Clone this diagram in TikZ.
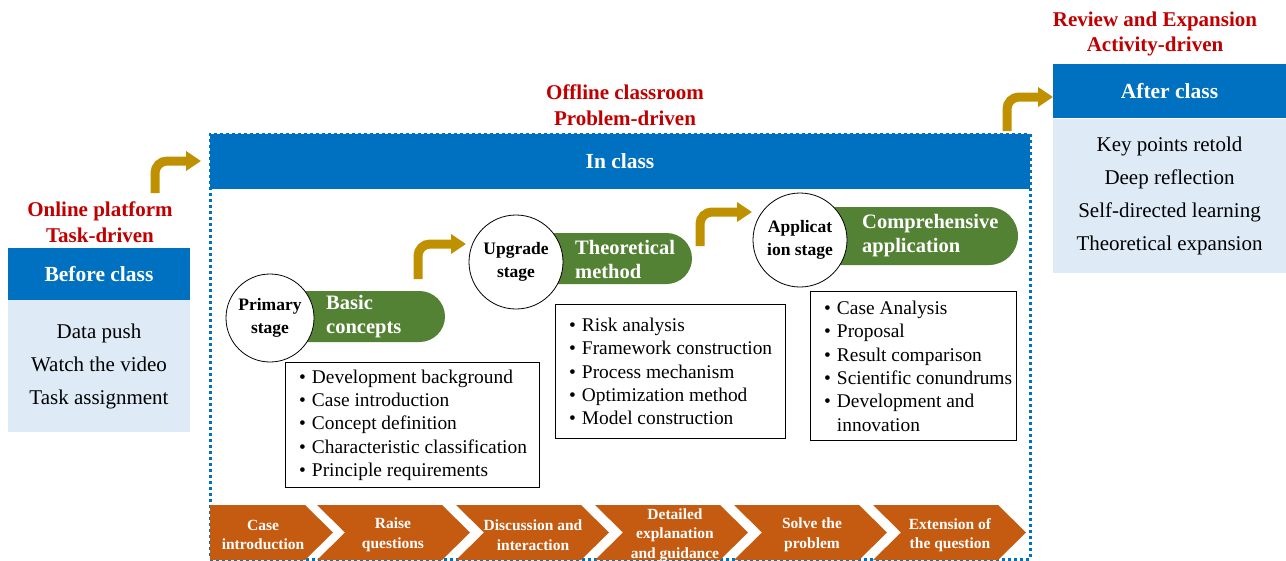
\documentclass[tikz,border=0pt]{standalone}
\usepackage{fontspec}
\setmainfont{Liberation Serif}
\usetikzlibrary{arrows.meta,shapes.misc}

\definecolor{headblue}{HTML}{0070C0}
\definecolor{panelblue}{HTML}{DEEBF7}
\definecolor{drivered}{HTML}{C00000}
\definecolor{pillgreen}{HTML}{548235}
\definecolor{arrowgold}{HTML}{BF9000}
\definecolor{chevorange}{HTML}{C55A11}
\definecolor{frameblue}{HTML}{0070C0}

\newcommand{\bitem}{\textbullet\hspace{6pt}}

\begin{document}
\begin{tikzpicture}[x=1pt, y=-1pt,
    head/.style={fill=headblue, text=white, inner sep=0, font=\bfseries\fontsize{21.5}{24}\selectfont},
    panel/.style={fill=panelblue, inner sep=0, align=center, font=\fontsize{21}{33}\selectfont},
    drive/.style={text=drivered, align=center, inner sep=0, font=\bfseries\fontsize{21}{25.5}\selectfont},
    frame/.style={draw=frameblue, line width=3pt, dash pattern=on 3pt off 3pt, inner sep=0},
    stagecirc/.style={circle, draw, fill=white, line width=0.8pt, inner sep=0, align=center, font=\bfseries\fontsize{17.5}{23}\selectfont},
    pill/.style={rounded rectangle, rounded rectangle west arc=none, fill=pillgreen, inner sep=0},
    pilltext/.style={anchor=west, text=white, inner sep=0, align=left, font=\bfseries\fontsize{20.5}{24}\selectfont},
    listbox/.style={draw, line width=1.3pt, fill=white, anchor=north west, inner sep=0},
    listtext/.style={anchor=west, inner sep=0, align=left, font=\fontsize{19.4}{23.3}\selectfont},
    goldbend/.style={draw=arrowgold, line width=9pt, rounded corners=12pt, -{Triangle[length=15pt,width=19pt]}},
    chev/.style={fill=chevorange},
    chevtext/.style={text=white, inner sep=0, align=center, font=\bfseries\fontsize{15.5}{19.5}\selectfont}]
    \useasboundingbox (0,0) rectangle (1286,560);

    % before class
    \node[drive] (onlinelbl) at (100,222) {Online platform\\Task-driven};
    \node[head, minimum width=182, minimum height=53] (before) at (99,274) {Before class};
    \node[panel, minimum width=182, minimum height=132] (beforebody) at (99,366) {Data push\\Watch the video\\Task assignment};

    % in class frame
    \node[frame, minimum width=820, minimum height=425] (classframe) at (620,346.5) {};
    \node[drive] (offlinelbl) at (625,105) {Offline classroom\\Problem-driven};
    \node[head, minimum width=820, minimum height=55] (inclass) at (620,161.5) {In class};

    % after class
    \node[drive] (reviewlbl) at (1155,34) {Review and Expansion\\Activity-driven};
    \node[head, minimum width=233, minimum height=54] (after) at (1169.5,91) {After class};
    \node[panel, minimum width=233, minimum height=154] (afterbody) at (1169.5,196) {Key points retold\\Deep reflection\\Self-directed learning\\Theoretical expansion};

    % stages
    \node[pill, minimum width=175, minimum height=51] (pill1) at (357.5,316.5) {};
    \node[stagecirc, minimum size=88] (primary) at (270,318) {Primary\\stage};
    \node[pilltext] (basic) at (326,317) {Basic\\concepts};

    \node[pill, minimum width=176, minimum height=51] (pill2) at (604,258.5) {};
    \node[stagecirc, minimum size=94] (upgrade) at (516,262) {Upgrade\\stage};
    \node[pilltext] (theory) at (575,259.5) {Theoretical\\method};

    \node[pill, minimum width=218, minimum height=58] (pill3) at (909,236) {};
    \node[stagecirc, minimum size=94] (applic) at (800,240) {Applicat\\ion stage};
    \node[pilltext] (compre) at (862,235.5) {Comprehensive\\application};

    % lists
    \node[listbox, minimum width=254, minimum height=125] (box1) at (285,362) {};
    \node[listtext] (list1) at ([xshift=14pt]box1.west) {\bitem Development background\\\bitem Case introduction\\\bitem Concept definition\\\bitem Characteristic classification\\\bitem Principle requirements};
    \node[listbox, minimum width=230, minimum height=134] (box2) at (555,304) {};
    \node[listtext] (list2) at ([xshift=14pt]box2.west) {\bitem Risk analysis\\\bitem Framework construction\\\bitem Process mechanism\\\bitem Optimization method\\\bitem Model construction};
    \node[listbox, minimum width=206, minimum height=149] (box3) at (810,291) {};
    \node[listtext] (list3) at ([xshift=14pt]box3.west) {\bitem Case Analysis\\\bitem Proposal\\\bitem Result comparison\\\bitem Scientific conundrums\\\bitem Development and\\\hphantom{\bitem}innovation};

    % bent arrows
    \coordinate (a1s) at (155,193);
    \coordinate (a1e) at (201,161);
    \coordinate (a2s) at (418,279);
    \coordinate (a2e) at (466,244);
    \coordinate (a3s) at (700,246);
    \coordinate (a3e) at (752,212);
    \coordinate (a4s) at (1007,131);
    \coordinate (a4e) at (1053,97);
    \draw[goldbend] (a1s) |- (a1e);
    \draw[goldbend] (a2s) |- (a2e);
    \draw[goldbend] (a3s) |- (a3e);
    \draw[goldbend] (a4s) |- (a4e);

    % process chevrons
    \fill[chev] (210,505) -- (305,505) -- (333,532.5) -- (305,560) -- (210,560) -- cycle;
    \fill[chev] (317,505) -- (442,505) -- (470,532.5) -- (442,560) -- (317,560) -- (345,532.5) -- cycle;
    \fill[chev] (456,505) -- (581,505) -- (609,532.5) -- (581,560) -- (456,560) -- (484,532.5) -- cycle;
    \fill[chev] (595,505) -- (720,505) -- (748,532.5) -- (720,560) -- (595,560) -- (623,532.5) -- cycle;
    \fill[chev] (734,505) -- (859,505) -- (887,532.5) -- (859,560) -- (734,560) -- (762,532.5) -- cycle;
    \fill[chev] (873,505) -- (998,505) -- (1026,532.5) -- (998,560) -- (873,560) -- (901,532.5) -- cycle;
    \node[chevtext] (step1) at (263,535) {Case\\introduction};
    \node[chevtext] (step2) at (393,535) {Raise\\questions};
    \node[chevtext] (step3) at (533,535) {Discussion and\\interaction};
    \node[chevtext] (step4) at (675,535) {Detailed\\explanation\\and guidance};
    \node[chevtext] (step5) at (812,535) {Solve the\\problem};
    \node[chevtext] (step6) at (950,535) {Extension of\\the question};
\end{tikzpicture}
\end{document}
